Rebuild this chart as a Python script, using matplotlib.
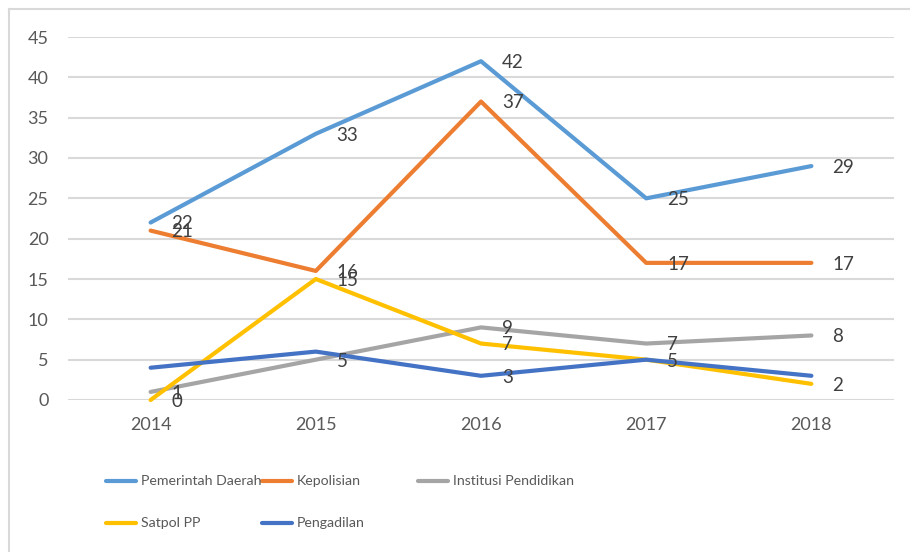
import matplotlib.pyplot as plt
from matplotlib.lines import Line2D

years = ['2014', '2015', '2016', '2017', '2018']
names = ['Pemerintah Daerah', 'Kepolisian', 'Institusi Pendidikan', 'Satpol PP', 'Pengadilan']
pemda = [22, 33, 42, 25, 29]
polisi = [21, 16, 37, 17, 17]
pendidikan = [1, 5, 9, 7, 8]
satpol = [0, 15, 7, 5, 2]
pengadilan = [4, 6, 3, 5, 3]
series = [pemda, polisi, pendidikan, satpol, pengadilan]
colors = ['#5B9BD5', '#ED7D31', '#A5A5A5', '#FFC000', '#4472C4']
# which points carry a data label (as in the original)
labelled = [[0, 1, 2, 3, 4], [0, 1, 2, 3, 4], [0, 1, 2, 3, 4], [0, 1, 2, 3, 4], [2]]

plt.rcParams['font.family'] = ['Lato', 'DejaVu Sans']

fig = plt.figure(figsize=(9.1, 5.52), dpi=100)
ax = fig.add_axes([68 / 910, 1 - 400 / 552, (894 - 68) / 910, (400 - 37) / 552])

x = list(range(len(years)))
for vals, c, idx in zip(series, colors, labelled):
    ax.plot(x, vals, color=c, lw=3, solid_capstyle='round', clip_on=False)
    for i in idx:
        ax.annotate(str(vals[i]), (x[i], vals[i]), xytext=(15, -1), textcoords='offset points',
                    ha='left', va='center', fontsize=13.5, color='#404040')

ax.set_xlim(-0.5, 4.5)
ax.set_ylim(0, 45)
ax.set_yticks(range(0, 46, 5))
ax.set_xticks(x)
ax.set_xticklabels(years)
ax.grid(axis='y', color='#D9D9D9', lw=1.5)
ax.set_axisbelow(True)
for s in ax.spines.values():
    s.set_visible(False)
ax.tick_params(length=0, labelsize=13, colors='#595959')
ax.tick_params(axis='y', pad=14)
ax.tick_params(axis='x', pad=12)

# legend laid out like the Excel one
col_x = [106, 262, 418]
row_y = [481, 523]
for k, (name, c) in enumerate(zip(names, colors)):
    cx = col_x[k % 3] / 910
    cy = 1 - row_y[k // 3] / 552
    fig.add_artist(Line2D([cx, cx + 30 / 910], [cy, cy], color=c, lw=3, solid_capstyle='round'))
    fig.text(cx + 35 / 910, cy, name, ha='left', va='center', fontsize=10.2, color='#595959')

# chart border (only left and top fall inside the image)
fig.add_artist(Line2D([9 / 910, 9 / 910], [0, 1 - 9 / 552], color='#D9D9D9', lw=1.5))
fig.add_artist(Line2D([9 / 910, 1], [1 - 9 / 552, 1 - 9 / 552], color='#D9D9D9', lw=1.5))

fig.savefig('out.png', dpi=100)
